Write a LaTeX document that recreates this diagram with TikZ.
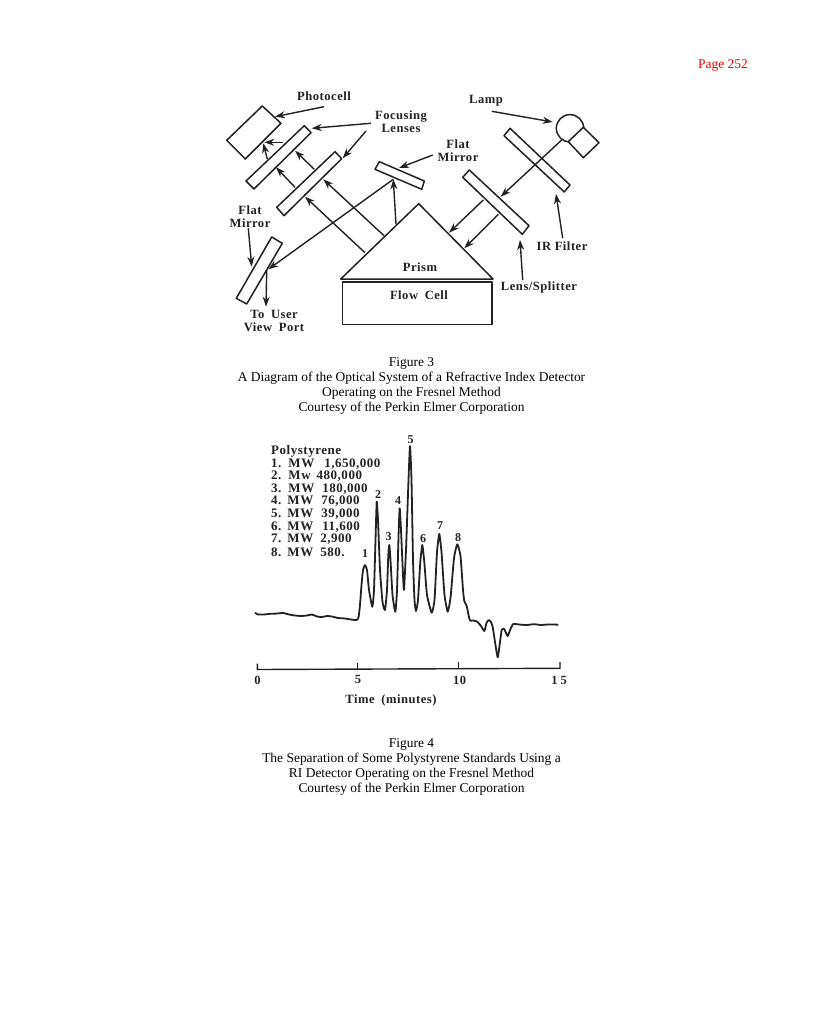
\documentclass[tikz,border=0pt]{standalone}
\usepackage{fontspec}
\setmainfont{Liberation Serif}
\newfontfamily\labfont[LetterSpace=4]{Liberation Serif}
\usetikzlibrary{arrows.meta}
\definecolor{ink}{HTML}{222222}
\tikzset{
  part/.style={draw=ink,line width=1.5pt,line join=round},
  arr/.style={draw=ink,line width=1.4pt,-{Stealth[length=10pt,width=7pt]}},
  lab/.style={font=\labfont\bfseries\fontsize{12.6}{13}\selectfont,text=ink,align=center,inner sep=0pt,yshift=-0.5pt},
  captext/.style={font=\fontsize{13.45}{15}\selectfont,text=black,align=center,inner sep=0pt,yshift=-2pt},
  leg/.style={font=\labfont\bfseries\fontsize{13}{13}\selectfont,text=ink,anchor=west,inner sep=0pt,yshift=-1.5pt},
  num/.style={font=\bfseries\fontsize{12}{12}\selectfont,text=ink,inner sep=0pt,yshift=-1pt},
  axl/.style={font=\labfont\bfseries\fontsize{12.5}{13}\selectfont,text=ink,inner sep=0pt},
  trace/.style={draw=ink,line width=1.8pt,line join=round},
  axisline/.style={draw=ink,line width=1.4pt}
}
\begin{document}
\begin{tikzpicture}[x=1pt,y=-1pt]
\useasboundingbox[fill=white] (0,0) rectangle (821,1024);
\node[captext,text=red] (page) at (723,64) {Page 252};

% optical parts
\draw[part] (262.3,106) -- (281,123.3) -- (245.3,159) -- (226.7,140.3) -- cycle;
\draw[part] (304.3,125.7) -- (311,132.7) -- (254,189) -- (246,181) -- cycle;
\draw[part] (335,151.7) -- (341.7,158.7) -- (284,215.7) -- (276.7,207.3) -- cycle;
\draw[part] (379.3,161.7) -- (424.3,181) -- (421.7,189.3) -- (375,169.3) -- cycle;
\draw[part] (271.7,237) -- (282.3,243.3) -- (246.7,304) -- (236.3,298.3) -- cycle;
\draw[part] (418.7,203.7) -- (493,279) -- (340.7,279) -- cycle;
\draw[part] (342.3,282) rectangle (492,324.3);
\draw[part] (570,128.3) circle[radius=13.7];
\draw[part,fill=white] (583.3,127.3) -- (599,142.7) -- (583.3,157.7) -- (568.3,141.7) -- cycle;
\draw[part] (510,128.3) -- (570,185) -- (564.3,192) -- (504,135.7) -- cycle;
\draw[part] (469.3,170) -- (529,225.7) -- (522.3,234.3) -- (462.7,177.3) -- cycle;

% beam end points
\coordinate (lamp) at (561.7,140);
\coordinate (splitIn) at (500.7,196.7);
\coordinate (splitA) at (483.3,200);
\coordinate (prismA) at (449,232.7);
\coordinate (splitB) at (498.3,214.3);
\coordinate (prismB) at (464.3,248.3);
\coordinate (prismTop) at (396,224.3);
\coordinate (mirrorHit) at (393.3,179.3);
\coordinate (userMirror) at (268.3,269.3);
\coordinate (prismC) at (365,252.7);
\coordinate (lensTwoA) at (305,196.7);
\coordinate (prismD) at (384,235.7);
\coordinate (lensTwoB) at (323.3,179.3);
\coordinate (lensTwoC) at (295,187.3);
\coordinate (lensOneA) at (276,167.3);
\coordinate (lensTwoD) at (314.3,169.3);
\coordinate (lensOneB) at (295,150.7);
\coordinate (lensOneC) at (283.3,142.3);
\coordinate (cellA) at (264.3,142.3);
\coordinate (lensOneD) at (267.3,159.3);
\coordinate (cellB) at (263.3,143.3);
\coordinate (userFrom) at (266.7,270);
\coordinate (userTo) at (266,306.7);

\draw[arr] (lamp) -- (splitIn);
\draw[arr] (splitA) -- (prismA);
\draw[arr] (splitB) -- (prismB);
\draw[arr] (prismTop) -- (mirrorHit);
\draw[arr] (mirrorHit) -- (userMirror);
\draw[arr] (prismC) -- (lensTwoA);
\draw[arr] (prismD) -- (lensTwoB);
\draw[arr] (lensTwoC) -- (lensOneA);
\draw[arr] (lensTwoD) -- (lensOneB);
\draw[arr] (lensOneC) -- (cellA);
\draw[arr] (lensOneD) -- (cellB);
\draw[arr] (userFrom) -- (userTo);

% labels
\node[lab] (photocell) at (324,96) {Photocell};
\node[lab] (focusing) at (401,121.5) {Focusing\\Lenses};
\node[lab] (lamplab) at (486,100) {Lamp};
\node[lab] (flatTop) at (458,150) {Flat\\Mirror};
\node[lab] (flatLeft) at (250,216.5) {Flat\\Mirror};
\node[lab] (touser) at (274,320.5) {To\hspace{3pt} User\\View\hspace{3pt} Port};
\node[lab] (irfilter) at (562,246) {IR Filter};
\node[lab] (lenssplit) at (539,286.5) {Lens/Splitter};
\node[lab] (prism) at (420,267) {Prism};
\node[lab] (flowcell) at (419,295) {Flow\hspace{3pt} Cell};

% label leaders
\coordinate (photoS) at (324,106.7);  \coordinate (photoE) at (275,116.7);
\coordinate (focS) at (371,123.3);    \coordinate (focE) at (311.7,128.3);
\coordinate (focT) at (366,131);      \coordinate (focF) at (342.7,158.3);
\coordinate (lampS) at (491.7,111.3); \coordinate (lampE) at (552.7,122);
\coordinate (flatS) at (432.7,155);   \coordinate (flatE) at (399,168);
\coordinate (leftS) at (248.3,228.3); \coordinate (leftE) at (251.7,266.7);
\coordinate (irS) at (562.7,238.3);   \coordinate (irE) at (556,194);
\coordinate (lensS) at (522.7,280);   \coordinate (lensE) at (520,240);
\draw[arr] (photoS) -- (photoE);
\draw[arr] (focS) -- (focE);
\draw[arr] (focT) -- (focF);
\draw[arr] (lampS) -- (lampE);
\draw[arr] (flatS) -- (flatE);
\draw[arr] (leftS) -- (leftE);
\draw[arr] (irS) -- (irE);
\draw[arr] (lensS) -- (lensE);

\node[captext] (figThree) at (411.5,383.5) {Figure 3\\A Diagram of the Optical System of a Refractive Index Detector\\Operating on the Fresnel Method\\Courtesy of the Perkin Elmer Corporation};

% legend
\node[leg] (legT) at (271,450) {Polystyrene};
\node[leg] (leg1) at (271,462.5) {1.\hspace{7pt}MW\hspace{10pt}1,650,000};
\node[leg] (leg2) at (271,475) {2.\hspace{7pt}Mw\hspace{6pt}480,000};
\node[leg] (leg3) at (271,487.5) {3.\hspace{7pt}MW\hspace{8pt}180,000};
\node[leg] (leg4) at (271,500) {4.\hspace{6pt}MW\hspace{8pt}76,000};
\node[leg] (leg5) at (271,512.5) {5.\hspace{6pt}MW\hspace{8pt}39,000};
\node[leg] (leg6) at (271,525.5) {6.\hspace{6pt}MW\hspace{9pt}11,600};
\node[leg] (leg7) at (271,538) {7.\hspace{6pt}MW\hspace{7pt}2,900};
\node[leg] (leg8) at (271,551) {8.\hspace{6pt}MW\hspace{7pt}580.};

% chromatogram
\draw[trace] plot[smooth,tension=0.3] coordinates {
 (255,612.7) (258,614.5) (264,614.5) (270,613.8) (276,613.6) (283.3,613) (289,614.5) (295,615.5) (301,616) (307,615.5) (312,614.5) (317,616.5) (322,617) (327,616) (332,616.5) (338,618) (345,618.5) (351,619.5) (356.5,620) (358.5,617.5)
 (360,605) (361.5,585) (363,570) (365,565) (367,570) (369,590) (372.3,606.7)
 (374,590) (375.5,540) (376.7,501.7) (378,520) (380,570) (382.5,602) (385,610)
 (387,590) (388.3,555) (389.3,545) (390.5,560) (392.5,595) (395.3,611.7)
 (397,590) (398.7,530) (399.7,508.3) (401,530) (403,575) (404,590)
 (406,550) (408.5,480) (410,446) (411.5,480) (413,560) (414.5,600) (416,611)
 (418,600) (420.3,562) (422.3,545) (424.3,562) (427,595) (431.7,612.7)
 (434.5,600) (437,552) (439.3,534) (441.5,552) (444.5,595) (447.7,611.7)
 (450.5,598) (454,558) (457.3,544.3) (460.5,556) (463,590) (464.3,601) (466.7,606)
 (468.5,615) (470,620.5) (473,620.5) (477.3,621.7) (481,626) (484.3,631) (486.5,623) (488.7,620) (491,622) (492.7,627)
 (495,642) (497.7,657.3) (500,642) (501.7,630) (504,628.7) (506,633) (507.7,636) (510.5,629) (513.3,624) (520,624.6) (527,625) (534,624.2) (541,625) (549,624.4) (558.3,624.7)};
\node[num] (p1) at (365,553) {1};
\node[num] (p2) at (378,494) {2};
\node[num] (p3) at (388.5,536) {3};
\node[num] (p4) at (398,499.5) {4};
\node[num] (p5) at (410.5,438.5) {5};
\node[num] (p6) at (423,538) {6};
\node[num] (p7) at (440,525) {7};
\node[num] (p8) at (458,537) {8};

% time axis
\coordinate (ax0) at (257.3,669.5);
\coordinate (ax15) at (560,668.3);
\draw[axisline] (257.3,663.5) -- (ax0) -- (ax15) -- (560,662);
\draw[axisline] (357.3,662.5) -- (357.3,669);
\draw[axisline] (458.3,661.7) -- (458.3,668.5);
\node[axl] (t0) at (257.5,680) {0};
\node[axl] (t5) at (358,679) {5};
\node[axl] (t10) at (459.5,680) {10};
\node[axl] (t15) at (559,680) {1\hspace{3pt}5};
\node[lab] (timelab) at (391,700) {Time\hspace{3pt} (minutes)};

\node[captext] (figFour) at (411.5,764.5) {Figure 4\\The Separation of Some Polystyrene Standards Using a\\RI Detector Operating on the Fresnel Method\\Courtesy of the Perkin Elmer Corporation};
\end{tikzpicture}
\end{document}
